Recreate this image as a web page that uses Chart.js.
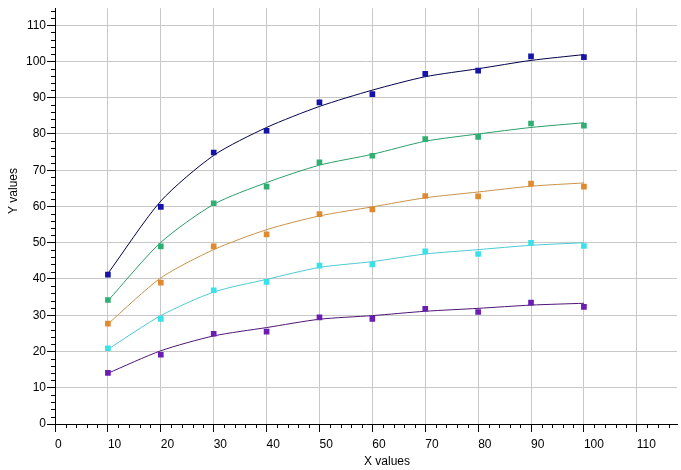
<!DOCTYPE html>
<html>
<head>
<meta charset="utf-8">
<script src="https://cdn.jsdelivr.net/npm/chart.js@4"></script>
<style>
  body { margin: 0; background: #fff; }
  #wrap { width: 681px; height: 470px; }
</style>
</head>
<body>
<div id="wrap"><canvas id="chart" width="681" height="470"></canvas></div>
<script>
const xValues = [10, 20, 30, 40, 50, 60, 70, 80, 90, 100];

const blueData = [41.2, 59.9, 74.9, 80.9, 88.7, 91.0, 96.6, 97.5, 101.4, 101.2];
const blueFit = [41.5, 61.5, 74.1, 81.8, 87.6, 92.1, 95.8, 98.0, 100.3, 101.9];

const greenData = [34.2, 49.0, 60.9, 65.5, 72.2, 74.0, 78.6, 79.2, 82.9, 82.3];
const greenFit = [34.0, 50.1, 60.6, 66.6, 71.4, 74.4, 78.0, 80.0, 81.8, 83.1];

const orangeData = [27.7, 39.0, 49.0, 52.3, 57.9, 59.2, 62.9, 62.8, 66.3, 65.5];
const orangeFit = [27.6, 40.3, 48.1, 53.6, 57.4, 59.9, 62.4, 64.0, 65.6, 66.5];

const cyanData = [20.9, 29.0, 36.9, 39.2, 43.7, 44.0, 47.6, 46.9, 50.0, 49.1];
const cyanFit = [20.6, 29.9, 36.4, 39.9, 43.2, 44.8, 46.9, 48.1, 49.3, 50.0];

const purpleData = [14.1, 19.1, 24.9, 25.5, 29.4, 29.0, 31.8, 30.9, 33.5, 32.3];
const purpleFit = [14.0, 20.2, 24.3, 26.6, 28.9, 29.9, 31.1, 31.9, 32.8, 33.3];

const xTicks = [0, 10, 20, 30, 40, 50, 60, 70, 80, 90, 100, 110];
const yTicks = [0, 10, 20, 30, 40, 50, 60, 70, 80, 90, 100, 110];
const minorStep = 2;

const series = [
  { points: blueData, fit: blueFit, marker: "#1414a8", line: "#000048" },
  { points: greenData, fit: greenFit, marker: "#2eb072", line: "#2a9e68" },
  { points: orangeData, fit: orangeFit, marker: "#e08a30", line: "#c8924a" },
  { points: cyanData, fit: cyanFit, marker: "#38e2e8", line: "#4ccad4" },
  { points: purpleData, fit: purpleFit, marker: "#6a1cb4", line: "#4e1474" },
];

const toXY = (vals) => vals.map((v, i) => ({ x: xValues[i], y: v }));

const datasets = [];
series.forEach((s) => {
  datasets.push({
    data: toXY(s.points),
    backgroundColor: s.marker,
    borderWidth: 0,
    pointStyle: "rect",
    pointRadius: 4,
    pointHoverRadius: 4,
    order: 0,
  });
});
series.forEach((s) => {
  datasets.push({
    data: toXY(s.fit),
    showLine: true,
    borderColor: s.line,
    borderWidth: 1,
    pointRadius: 0,
    tension: 0.25,
    order: 1,
  });
});

// minor tick marks and axis titles
const extras = {
  id: "extras",
  afterDraw(chart) {
    const { ctx, scales } = chart;
    const x = scales.x;
    const y = scales.y;
    ctx.save();
    ctx.strokeStyle = "#000";
    ctx.lineWidth = 1;
    ctx.beginPath();
    for (let v = 0; v <= x.max; v += minorStep) {
      if (v % 10 === 0) continue;
      const px = Math.round(x.getPixelForValue(v)) + 0.5;
      ctx.moveTo(px, x.top);
      ctx.lineTo(px, x.top + 4);
    }
    for (let v = 0; v <= y.max; v += minorStep) {
      if (v % 10 === 0) continue;
      const py = Math.round(y.getPixelForValue(v)) + 0.5;
      ctx.moveTo(y.right, py);
      ctx.lineTo(y.right - 4, py);
    }
    ctx.stroke();

    ctx.fillStyle = "#000";
    ctx.font = "12px 'Liberation Sans', Arial, sans-serif";
    ctx.textAlign = "center";
    ctx.textBaseline = "alphabetic";
    ctx.fillText("X values", 387, 465);
    ctx.translate(17, 191);
    ctx.rotate(-Math.PI / 2);
    ctx.fillText("Y values", 0, 0);
    ctx.restore();
  },
};

const tickFont = { family: "'Liberation Sans', Arial, sans-serif", size: 12 };

new Chart(document.getElementById("chart").getContext("2d"), {
  type: "scatter",
  data: { datasets },
  options: {
    responsive: false,
    animation: false,
    devicePixelRatio: 1,
    layout: { padding: { left: 25, right: 0, top: 0, bottom: 13.6 } },
    plugins: {
      legend: { display: false },
      tooltip: { enabled: false },
    },
    scales: {
      x: {
        type: "linear",
        min: 0,
        max: 117.6,
        afterBuildTicks: (axis) => {
          axis.ticks = xTicks.map((v) => ({ value: v }));
        },
        ticks: {
          align: "start",
          padding: 5,
          color: "#000",
          font: tickFont,
          maxRotation: 0,
        },
        grid: {
          color: "#c8c8c8",
          tickColor: "#000",
          tickLength: 8,
        },
        border: { color: "#000", width: 1 },
      },
      y: {
        type: "linear",
        min: 0,
        max: 114.7,
        afterBuildTicks: (axis) => {
          axis.ticks = yTicks.map((v) => ({ value: v }));
        },
        ticks: {
          padding: 1,
          color: "#000",
          font: tickFont,
        },
        grid: {
          color: "#c8c8c8",
          tickColor: "#000",
          tickLength: 8,
        },
        border: { color: "#000", width: 1 },
      },
    },
  },
  plugins: [extras],
});
</script>
</body>
</html>
